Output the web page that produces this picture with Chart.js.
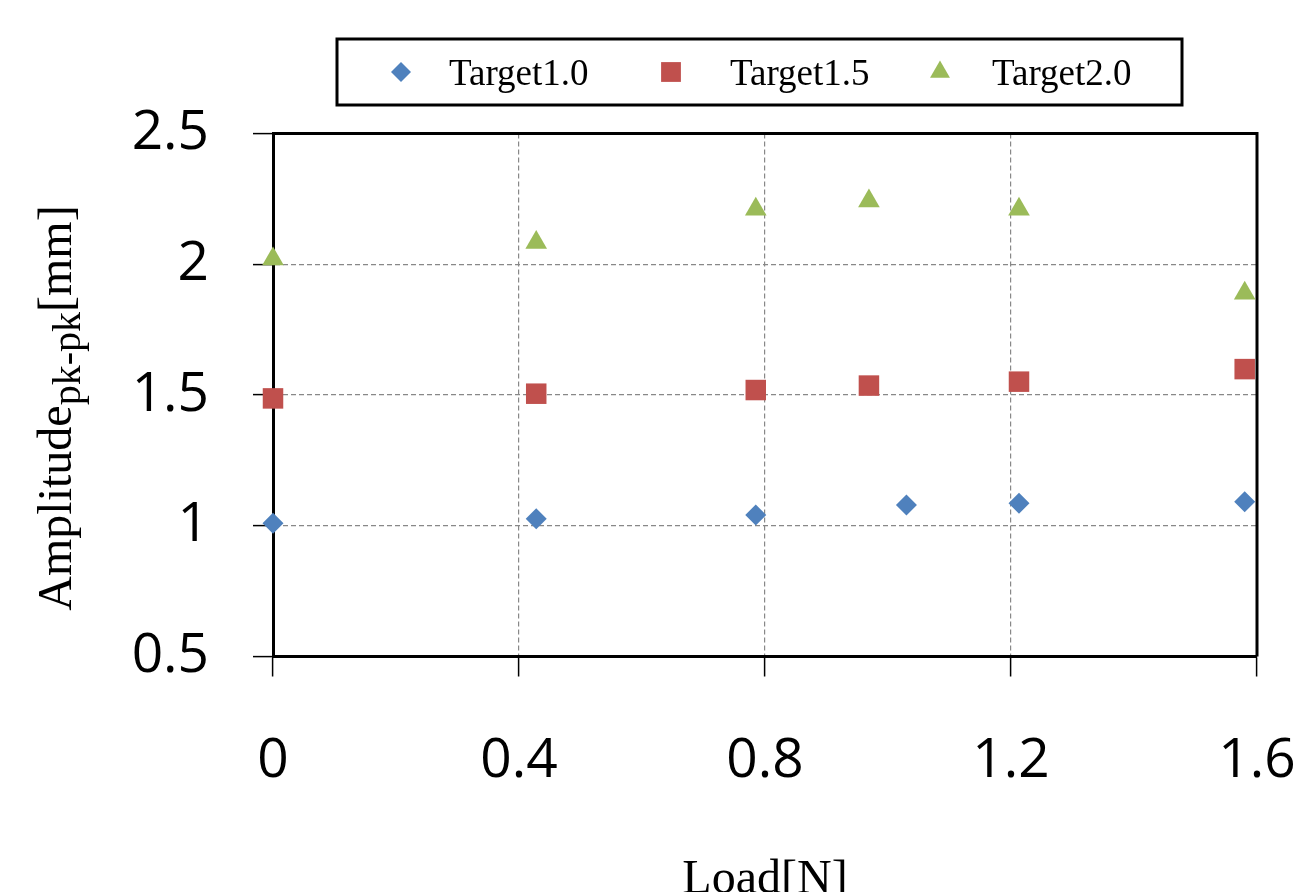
<!DOCTYPE html>
<html><head><meta charset="utf-8">
<script src="https://cdn.jsdelivr.net/npm/chart.js@4.4.1/dist/chart.umd.min.js"></script>
<style>html,body{margin:0;padding:0;background:#fff;overflow:hidden}#wrap{width:1302px;height:892px;position:relative}</style>
</head><body><div id="wrap"><canvas id="c" width="1302" height="892"></canvas></div>
<script>
const seriesNames = ['Target1.0', 'Target1.5', 'Target2.0'];
const loadT10 = [0, 0.428, 0.785, 1.03, 1.213, 1.58];
const ampT10  = [1.01, 1.027, 1.041, 1.079, 1.086, 1.092];
const loadT15 = [0, 0.428, 0.785, 0.969, 1.213, 1.58];
const ampT15  = [1.487, 1.505, 1.519, 1.536, 1.551, 1.599];
const loadT20 = [0, 0.428, 0.785, 0.969, 1.213, 1.58];
const ampT20  = [2.02, 2.083, 2.21, 2.242, 2.21, 1.889];
const xTickLabels = ['0', '0.4', '0.8', '1.2', '1.6'];
const yTickLabels = ['0.5', '1', '1.5', '2', '2.5'];
const xTitle = 'Load[N]';
const yTitleMain = 'Amplitude', yTitleSub = 'pk-pk', yTitleUnit = '[mm]';

const colors = ['#4F81BD', '#C0504D', '#9BBB59'];
const styles = ['rectRot', 'rect', 'triangle'];
const radii = [10.5, 14.5, 12.5];

function pts(xs, ys) { return xs.map((x, i) => ({x: x, y: ys[i]})); }

function drawMarker(ctx, style, x, y, r, color) {
  ctx.save();
  ctx.fillStyle = color;
  ctx.beginPath();
  if (style === 'rectRot') {
    ctx.moveTo(x - r, y); ctx.lineTo(x, y - r); ctx.lineTo(x + r, y); ctx.lineTo(x, y + r);
  } else if (style === 'rect') {
    const s = r * Math.SQRT1_2;
    ctx.rect(x - s, y - s, 2 * s, 2 * s);
  } else {
    const hw = r * Math.sin(2 * Math.PI / 3);
    ctx.moveTo(x, y - r); ctx.lineTo(x + hw, y + r / 2); ctx.lineTo(x - hw, y + r / 2);
  }
  ctx.closePath();
  ctx.fill();
  ctx.restore();
}

const framePlugin = {
  id: 'frame',
  beforeDatasetsDraw(chart) {
    const {ctx, chartArea: a} = chart;
    ctx.save();
    ctx.strokeStyle = '#000';
    ctx.lineWidth = 3;
    ctx.beginPath();
    ctx.moveTo(a.left, a.top); ctx.lineTo(a.right, a.top); ctx.lineTo(a.right, a.bottom);
    ctx.stroke();
    ctx.restore();
  }
};

const textPlugin = {
  id: 'texts',
  afterDraw(chart) {
    const {ctx, chartArea: a} = chart;
    // legend
    ctx.save();
    ctx.fillStyle = '#fff';
    ctx.fillRect(337, 39, 845, 66);
    ctx.strokeStyle = '#000';
    ctx.lineWidth = 3;
    ctx.strokeRect(337, 39, 845, 66);
    const mx = [401, 671, 940], tx = [449, 730, 992];
    ctx.font = '37px "Liberation Serif", "Times New Roman", serif';
    ctx.textBaseline = 'alphabetic';
    ctx.textAlign = 'left';
    const lr = [10, 14, 11.5];
    for (let i = 0; i < 3; i++) {
      drawMarker(ctx, styles[i], mx[i], 72, lr[i], colors[i]);
      ctx.fillStyle = '#000';
      ctx.fillText(seriesNames[i], tx[i], 85);
    }
    ctx.restore();

    // x title
    ctx.save();
    ctx.font = '48px "Liberation Serif", "Times New Roman", serif';
    ctx.fillStyle = '#000';
    ctx.textAlign = 'center';
    ctx.textBaseline = 'alphabetic';
    ctx.fillText(xTitle, (a.left + a.right) / 2, 893);
    ctx.restore();

    // y title with subscript
    ctx.save();
    const fMain = '48px "Liberation Serif", "Times New Roman", serif';
    const fSub = '40px "Liberation Serif", "Times New Roman", serif';
    ctx.font = fMain; const w1 = ctx.measureText(yTitleMain).width; const w3 = ctx.measureText(yTitleUnit).width;
    ctx.font = fSub; const w2 = ctx.measureText(yTitleSub).width;
    const total = w1 + w2 + w3;
    ctx.translate(71, 408);
    ctx.rotate(-Math.PI / 2);
    ctx.fillStyle = '#000';
    ctx.textBaseline = 'alphabetic';
    ctx.textAlign = 'left';
    let x0 = -total / 2;
    ctx.font = fMain; ctx.fillText(yTitleMain, x0, 0); x0 += w1;
    ctx.font = fSub; ctx.fillText(yTitleSub, x0, 9); x0 += w2;
    ctx.font = fMain; ctx.fillText(yTitleUnit, x0, 0);
    ctx.restore();
  }
};

const tickFont = {family: '"Open Sans", "Noto Sans", sans-serif', size: 55, lineHeight: 1};
const gridCommon = {
  color: '#888888', lineWidth: 1.2,
  drawTicks: true, tickLength: 20, tickColor: '#000', tickWidth: 1.5, tickBorderDash: []
};

new Chart(document.getElementById('c'), {
  type: 'scatter',
  data: {
    datasets: [
      {label: seriesNames[0], data: pts(loadT10, ampT10)},
      {label: seriesNames[1], data: pts(loadT15, ampT15)},
      {label: seriesNames[2], data: pts(loadT20, ampT20)}
    ].map((d, i) => Object.assign(d, {
      pointStyle: styles[i], pointRadius: radii[i], pointHoverRadius: radii[i],
      backgroundColor: colors[i], borderColor: colors[i], pointBorderWidth: 0,
      showLine: false, clip: false
    }))
  },
  options: {
    responsive: false, animation: false, devicePixelRatio: 1,
    layout: {padding: {left: 0, right: 45, top: 133.5, bottom: 0}},
    plugins: {legend: {display: false}, tooltip: {enabled: false}, title: {display: false}},
    scales: {
      x: {
        type: 'linear', min: 0, max: 1.6,
        afterFit(s) { s.height = 235.5; s.paddingLeft = 0; s.paddingRight = 0; },
        afterBuildTicks(s) { s.ticks = xTickLabels.map(v => ({value: parseFloat(v)})); },
        ticks: {callback: (v, i) => xTickLabels[i], font: tickFont, color: '#000', padding: 57, maxRotation: 0, autoSkip: false},
        grid: gridCommon,
        border: {display: true, color: '#000', width: 3, dash: [5, 3]}
      },
      y: {
        type: 'linear', min: 0.5, max: 2.5,
        afterFit(s) { s.width = 273; s.paddingTop = 0; s.paddingBottom = 0; },
        afterBuildTicks(s) { s.ticks = yTickLabels.map(v => ({value: parseFloat(v)})); },
        ticks: {callback: (v, i) => yTickLabels[i], font: tickFont, color: '#000', padding: 44, autoSkip: false},
        grid: gridCommon,
        border: {display: true, color: '#000', width: 3, dash: [5, 3]}
      }
    }
  },
  plugins: [framePlugin, textPlugin]
});
</script></body></html>
